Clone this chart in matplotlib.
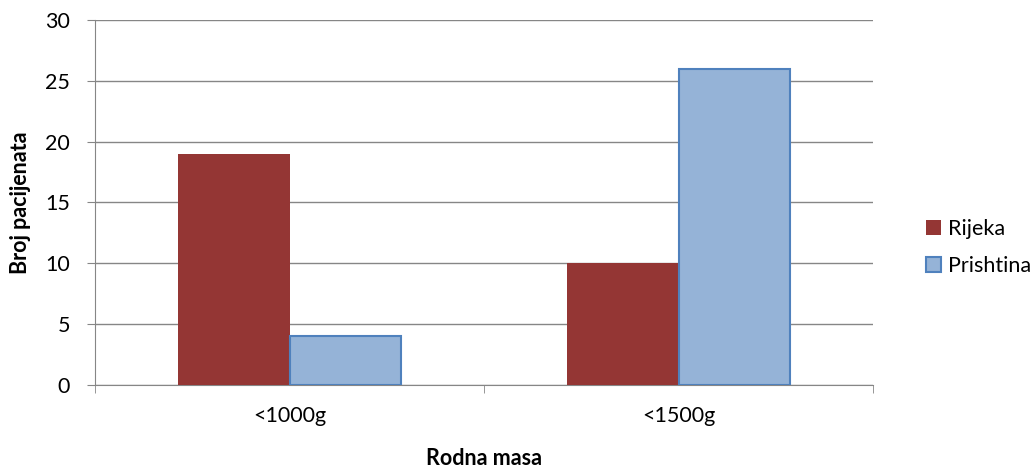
import matplotlib.pyplot as plt
import numpy as np

plt.rcParams['font.family'] = ['Lato', 'DejaVu Sans']

categories = ['<1000g', '<1500g']
rijeka = [19, 10]
prishtina = [4, 26]

fig = plt.figure(figsize=(10.34, 4.72), dpi=100)
ax = fig.add_axes([95 / 1034, 87 / 472, 778 / 1034, 365 / 472])

x = np.arange(len(categories))
w = 0.2857
ax.bar(x - w / 2, rijeka, w, color='#943634', label='Rijeka', zorder=3)
ax.bar(x + w / 2, prishtina, w, color='#95B3D7', edgecolor='#4F81BD',
       linewidth=1.5, label='Prishtina', zorder=3)

ax.set_xlim(-0.5, 1.5)
ax.set_ylim(0, 30)
ax.set_yticks(range(0, 31, 5))
ax.set_xticks(x)
ax.set_xticklabels(categories)
ax.set_xticks([-0.5, 0.5, 1.5], minor=True)
ax.tick_params(axis='x', which='major', length=0, pad=15, labelsize=15.5)
ax.tick_params(axis='x', which='minor', length=6, color='#868686', direction='out')
ax.tick_params(axis='y', length=6, color='#868686', pad=12, labelsize=15.5)

ax.grid(axis='y', color='#868686', linewidth=1, zorder=0)
for s in ['top', 'right']:
    ax.spines[s].set_visible(False)
for s in ['left', 'bottom']:
    ax.spines[s].set_color('#868686')

ax.set_xlabel('Rodna masa', fontsize=15.5, fontweight='bold', labelpad=16)
ax.set_ylabel('Broj pacijenata', fontsize=15.5, fontweight='bold', labelpad=10)

ax.legend(loc='center left', bbox_to_anchor=(1.043, 0.377), frameon=False,
          fontsize=15.5, handlelength=0.7, handleheight=0.7, labelspacing=0.8,
          handletextpad=0.35)

fig.savefig('out.png', dpi=100)
